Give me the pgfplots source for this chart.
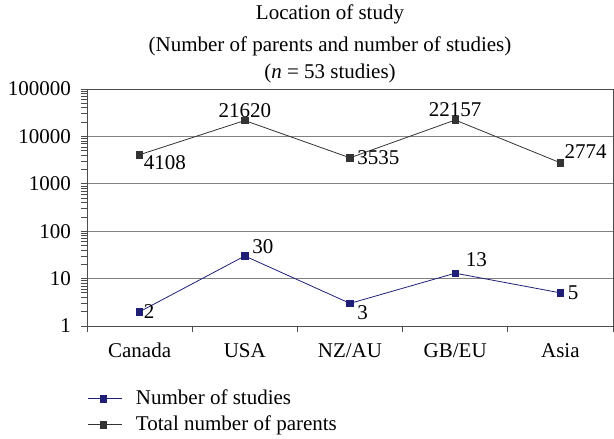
\documentclass[border=0pt]{standalone}
\usepackage{fontspec}
\setmainfont{Liberation Serif}
\usepackage{pgfplots}
\pgfplotsset{compat=1.18}
\definecolor{navy}{HTML}{1F1F78}
\definecolor{dgray}{HTML}{333333}
\begin{document}
\fontsize{21}{25}\selectfont
\begin{tikzpicture}[x=1pt,y=1pt]
\begin{axis}[
  at={(0,0)}, anchor=south west,
  scale only axis, width=526pt, height=237pt,
  ymode=log, ymin=1, ymax=100000,
  xmin=-0.5, xmax=4.5,
  xtick={0,1,2,3,4},
  xticklabels={Canada,USA,NZ/AU,GB/EU,Asia},
  major x tick style={draw=none},
  minor xtick={-0.5,0.5,1.5,2.5,3.5,4.5},
  minor x tick style={black!70, line width=0.8pt},
  minor tick length=6pt,
  ytick={1,10,100,1000,10000,100000},
  yticklabels={1,10,100,1000,10000,100000},
  major tick length=6pt,
  tick align=outside,
  xtick pos=bottom, ytick pos=left,
  ymajorgrids, grid style={black!50, line width=0.8pt},
  axis line style={black!70, line width=0.8pt},
  y tick style={black!70, line width=0.8pt},
  xticklabel style={yshift=-4pt},
  yticklabel style={xshift=-3pt},
  ticklabel style={font=\fontsize{21}{25}\selectfont},
  legend style={draw=none, fill=none, at={(0,-0.26)}, anchor=north west, font=\fontsize{21}{25}\selectfont, row sep=4pt, inner xsep=0pt, inner ysep=0pt,
    /tikz/every odd column/.append style={column sep=12pt}},
  legend cell align=left,
  legend image code/.code={\draw[#1] (0pt,0pt) -- (34pt,0pt); \draw[#1, only marks] plot coordinates {(16pt,0pt)};},
]
\addplot[color=navy, line width=0.8pt, mark=square*, mark size=3.2pt] coordinates {(0,2) (1,30) (2,3) (3,13) (4,5)};
\addlegendentry{Number of studies}
\addplot[color=dgray, line width=0.8pt, mark=square*, mark size=3.2pt] coordinates {(0,4108) (1,21620) (2,3535) (3,22157) (4,2774)};
\addlegendentry{Total number of parents}
\node[anchor=north west, inner sep=1pt] at (axis cs:0.03,4108) {4108};
\node[anchor=south, inner sep=3pt] at (axis cs:1,21620) {21620};
\node[anchor=west, inner sep=2pt] at (axis cs:2.05,3535) {3535};
\node[anchor=south, inner sep=3pt] at (axis cs:3,22157) {22157};
\node[anchor=south west, inner sep=2pt] at (axis cs:4.02,3000) {2774};
\node[anchor=west, inner sep=2pt] at (axis cs:0.02,2) {2};
\node[anchor=south west, inner sep=2pt] at (axis cs:1.05,30) {30};
\node[anchor=north west, inner sep=2pt] at (axis cs:2.05,3) {3};
\node[anchor=south west, inner sep=2pt] at (axis cs:3.08,16) {13};
\node[anchor=west, inner sep=2pt] at (axis cs:4.05,5) {5};
\end{axis}
\node at (243pt,312pt) {Location of study};
\node at (243pt,280pt) {(Number of parents and number of studies)};
\node at (243pt,253pt) {(\textit{n} = 53 studies)};
\pgfresetboundingbox
\path (-87pt,-113pt) rectangle (527pt,326pt);
\end{tikzpicture}
\end{document}
